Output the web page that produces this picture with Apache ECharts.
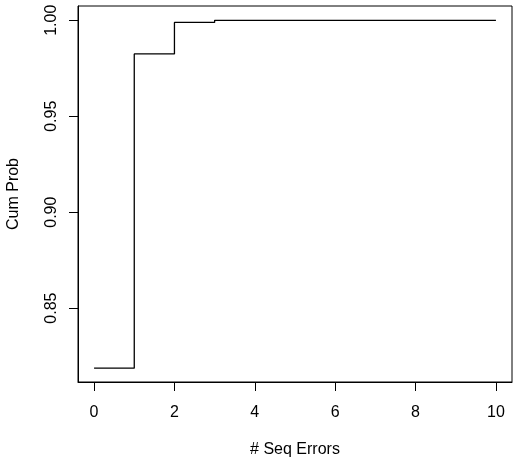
<!DOCTYPE html>
<html><head><meta charset="utf-8">
<script src="https://cdn.jsdelivr.net/npm/echarts@6/dist/echarts.min.js"></script>
<style>html,body{margin:0;padding:0;background:#fff}#c{width:517px;height:462px}</style>
</head><body><div id="c"></div>
<script>
const xValues = [0, 1, 2, 3, 4, 5, 6, 7, 8, 9, 10];
const cumProb = [0.8187, 0.98245, 0.9989, 1.0, 1.0, 1.0, 1.0, 1.0, 1.0, 1.0, 1.0];
const xTicks = [0, 2, 4, 6, 8, 10];
const yTicks = [0.85, 0.90, 0.95, 1.00];
const xTitle = '# Seq Errors';
const yTitle = 'Cum Prob';

const font = 'Liberation Sans, Arial, sans-serif';
const chart = echarts.init(document.getElementById('c'), null, {renderer: 'canvas'});
chart.setOption({
  animation: false,
  backgroundColor: '#fff',
  grid: {left: 78, top: 6, right: 5, bottom: 80, outerBoundsMode: 'none', containLabel: false,
    show: true, borderColor: '#000', borderWidth: 1, backgroundColor: 'transparent'},
  xAxis: {
    type: 'value', min: -0.4, max: 10.4,
    name: xTitle, nameLocation: 'middle', nameGap: 60,
    nameTextStyle: {color: '#000', fontSize: 16, fontFamily: font},
    axisLine: {show: true, onZero: false, lineStyle: {color: '#000', width: 1}},
    axisTick: {show: true, customValues: xTicks, length: 9, lineStyle: {color: '#000', width: 1}},
    axisLabel: {customValues: xTicks, color: '#000', fontSize: 16, fontFamily: font, margin: 23},
    splitLine: {show: false}
  },
  yAxis: {
    type: 'value', min: 0.8115, max: 1.00745,
    name: yTitle, nameLocation: 'middle', nameGap: 56,
    nameTextStyle: {color: '#000', fontSize: 16, fontFamily: font},
    axisLine: {show: true, onZero: false, lineStyle: {color: '#000', width: 1}},
    axisTick: {show: true, customValues: yTicks, length: 9, lineStyle: {color: '#000', width: 1}},
    axisLabel: {customValues: yTicks, rotate: 90, color: '#000', fontSize: 16, fontFamily: font, margin: 18,
      formatter: v => v.toFixed(2)},
    splitLine: {show: false}
  },
  series: [{
    type: 'line', step: 'end', showSymbol: false, symbol: 'none',
    data: xValues.map((x, i) => [x, cumProb[i]]),
    lineStyle: {color: '#000', width: 1.3},
    itemStyle: {color: '#000'}
  }]
});
</script></body></html>
